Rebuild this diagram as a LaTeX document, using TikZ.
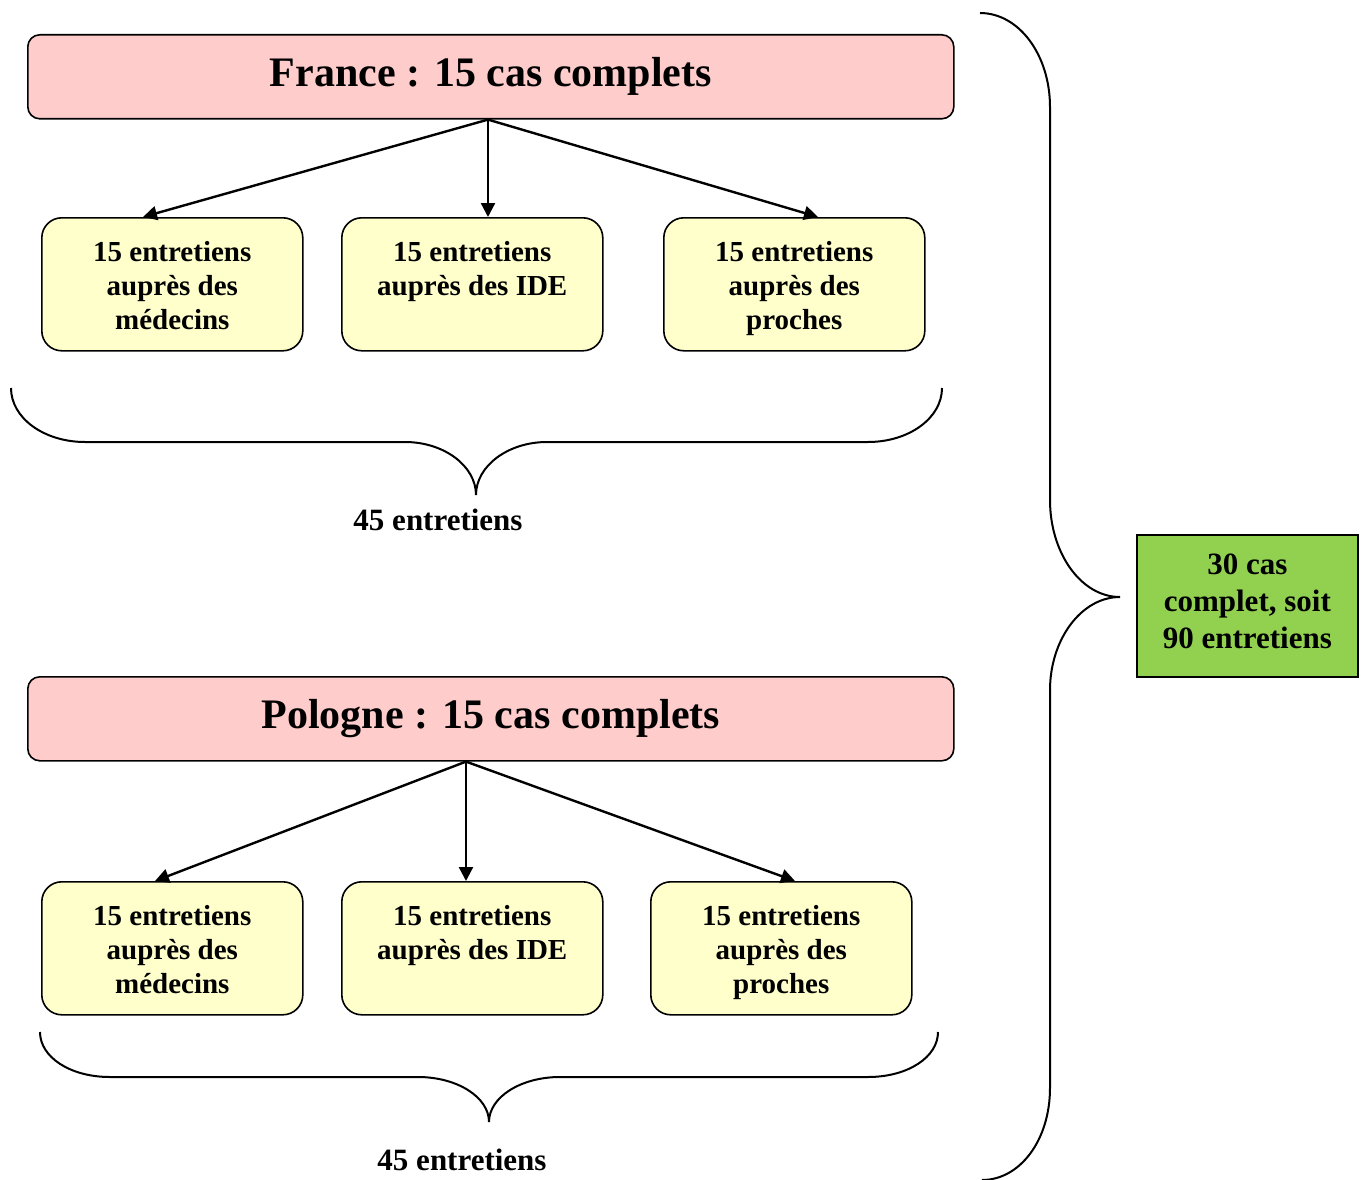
\documentclass[tikz,border=0pt]{standalone}
\usepackage{fontspec}
\setmainfont{Liberation Serif}
\usetikzlibrary{arrows.meta,calc}
\definecolor{pinkc}{HTML}{FFCCCC}
\definecolor{yellowc}{HTML}{FFFFCC}
\definecolor{greenc}{HTML}{92D050}
\newcommand\itemtext[1]{\begin{minipage}[c][104pt][t]{250pt}\centering\vspace*{9.5pt}#1\end{minipage}}
\newcommand\greentext[1]{\begin{minipage}[c][120pt][t]{215pt}\centering\vspace*{8pt}#1\end{minipage}}
\tikzset{
  titlebox/.style={draw, line width=1.6pt, rounded corners=12pt, fill=pinkc,
    minimum width=926pt, minimum height=84pt, inner sep=0pt,
    font=\fontsize{42}{48}\selectfont\bfseries},
  itembox/.style={draw, line width=1.6pt, rounded corners=20pt, fill=yellowc,
    minimum width=261pt, minimum height=133pt, inner sep=0pt,
    font=\fontsize{29}{34}\selectfont\bfseries},
  greenbox/.style={draw, line width=1.6pt, fill=greenc,
    minimum width=221pt, minimum height=142pt, inner sep=0pt,
    font=\fontsize{31}{37}\selectfont\bfseries},
  sumlabel/.style={inner sep=0pt, font=\fontsize{31}{36}\selectfont\bfseries},
  arr/.style={line width=2.4pt, -{Triangle[length=14pt,width=14pt]}},
  bracepath/.style={line width=2pt},
}
\begin{document}
\begin{tikzpicture}[x=1pt,y=-1pt]
\useasboundingbox (0,0) rectangle (1363,1180);

% France
\node[titlebox, anchor=north west] (fr) at (27,34) {France : 15 cas complets};
\node[itembox, anchor=north west] (f1) at (41,217) {\itemtext{15 entretiens\\auprès des\\médecins}};
\node[itembox, anchor=north west] (f2) at (341,217) {\itemtext{15 entretiens\\auprès des IDE}};
\node[itembox, anchor=north west] (f3) at (663,217) {\itemtext{15 entretiens\\auprès des\\proches}};

\coordinate (frs) at ($(fr.south west)+(461,0)$);
\draw[arr] (frs) -- ($(f1.north west)+(102,0)$);
\draw[arr] (frs) -- ($(f2.north west)+(147,0)$);
\draw[arr] (frs) -- ($(f3.north west)+(155,0)$);

\draw[bracepath] (11,388) .. controls (11,418) and (44,442) .. (85,442) -- (405,442)
  .. controls (444,442) and (476,466) .. (476,495)
  .. controls (476,466) and (508,442) .. (547,442) -- (868,442)
  .. controls (909,442) and (942,418) .. (942,388);
\node[sumlabel] (fs) at (438,520) {45 entretiens};

% Pologne
\node[titlebox, anchor=north west] (pl) at (27,676) {Pologne : 15 cas complets};
\node[itembox, anchor=north west] (p1) at (41,881) {\itemtext{15 entretiens\\auprès des\\médecins}};
\node[itembox, anchor=north west] (p2) at (341,881) {\itemtext{15 entretiens\\auprès des IDE}};
\node[itembox, anchor=north west] (p3) at (650,881) {\itemtext{15 entretiens\\auprès des\\proches}};

\coordinate (pls) at ($(pl.south west)+(439,0)$);
\draw[arr] (pls) -- ($(p1.north west)+(114,0)$);
\draw[arr] (pls) -- ($(p2.north west)+(125,0)$);
\draw[arr] (pls) -- ($(p3.north west)+(145,0)$);

\draw[bracepath] (40,1032) .. controls (40,1057) and (70,1077) .. (110,1077) -- (418,1077)
  .. controls (457,1077) and (489,1097) .. (489,1122)
  .. controls (489,1097) and (521,1077) .. (560,1077) -- (868,1077)
  .. controls (908,1077) and (938,1057) .. (938,1032);
\node[sumlabel] (ps) at (462,1160) {45 entretiens};

% Total
\node[greenbox, anchor=north west] (tot) at (1136,534) {\greentext{30 cas\\complet, soit\\90 entretiens}};
\coordinate (tip) at (1120,597);
\draw[bracepath] (980,13) .. controls (1019,13) and (1050,55) .. (1050,107) -- (1050,500)
  .. controls (1050,553) and (1081,597) .. (tip)
  .. controls (1081,597) and (1050,640) .. (1050,690) -- (1050,1088)
  .. controls (1050,1140) and (1020,1180) .. (982,1180);
\end{tikzpicture}
\end{document}
